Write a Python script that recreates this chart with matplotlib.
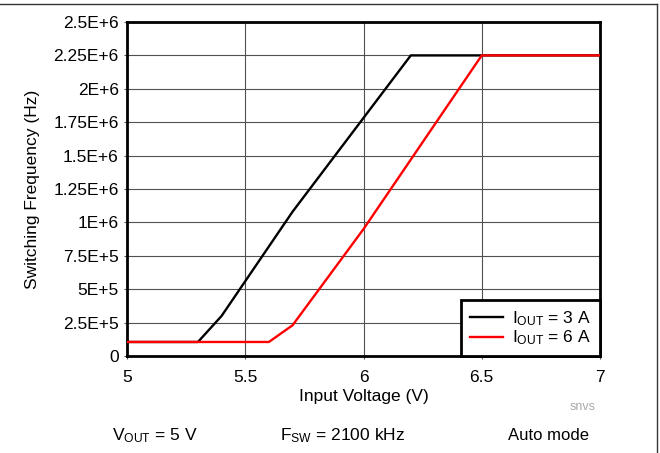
import matplotlib
matplotlib.use("Agg")
import matplotlib.pyplot as plt
from matplotlib.lines import Line2D

plt.rcParams['font.family'] = ['Liberation Sans', 'DejaVu Sans']
plt.rcParams['mathtext.fontset'] = 'custom'
plt.rcParams['mathtext.rm'] = 'Liberation Sans'
plt.rcParams['mathtext.it'] = 'Liberation Sans'

# Switching frequency vs input voltage
vin_3a = [5.0, 5.3, 5.4, 5.7, 6.2, 7.0]
fsw_3a = [1.05e5, 1.05e5, 3.0e5, 1.08e6, 2.25e6, 2.25e6]
vin_6a = [5.0, 5.6, 5.7, 6.0, 6.5, 7.0]
fsw_6a = [1.05e5, 1.05e5, 2.3e5, 9.5e5, 2.25e6, 2.25e6]

x_ticks = [5, 5.5, 6, 6.5, 7]
x_tick_labels = ['5', '5.5', '6', '6.5', '7']
y_ticks = [0, 2.5e5, 5e5, 7.5e5, 1e6, 1.25e6, 1.5e6, 1.75e6, 2e6, 2.25e6, 2.5e6]
y_tick_labels = ['0', '2.5E+5', '5E+5', '7.5E+5', '1E+6', '1.25E+6', '1.5E+6',
                 '1.75E+6', '2E+6', '2.25E+6', '2.5E+6']

FS = 12.5

fig = plt.figure(figsize=(6.6, 4.53), dpi=100)
ax = fig.add_axes([127/660, 1 - 356/453, (600 - 127)/660, (356 - 22)/453])

ax.plot(vin_3a, fsw_3a, color='black', lw=1.7, label=r'I$_{\mathregular{OUT}}$ = 3 A', zorder=3)
ax.plot(vin_6a, fsw_6a, color='#ff0000', lw=1.7, label=r'I$_{\mathregular{OUT}}$ = 6 A', zorder=3)

ax.set_xlim(5, 7)
ax.set_ylim(0, 2.5e6)
ax.set_xticks(x_ticks)
ax.set_xticklabels(x_tick_labels)
ax.set_yticks(y_ticks)
ax.set_yticklabels(y_tick_labels)
ax.tick_params(axis='both', labelsize=FS, length=2, width=0.8, color='#555555')
ax.tick_params(axis='y', pad=4)
ax.tick_params(axis='x', pad=8)
ax.grid(True, color='#505050', lw=0.8)
ax.set_axisbelow(True)
for s in ax.spines.values():
    s.set_linewidth(2)
    s.set_color('black')

ax.set_xlabel('Input Voltage (V)', fontsize=FS)
ax.xaxis.set_label_coords(0.5, -(397 - 356) / 334, transform=ax.transAxes)
ax.set_ylabel('Switching Frequency (Hz)', fontsize=FS)
ax.yaxis.set_label_coords(-(127 - 33) / 473, 0.5, transform=ax.transAxes)
ax.xaxis.label.set_va('center')
ax.yaxis.label.set_va('center')

leg = ax.legend(loc='lower right', borderaxespad=0, fontsize=FS, frameon=True,
                fancybox=False, handlelength=1.9, handletextpad=0.55,
                borderpad=0.5, labelspacing=0.05)
leg.get_frame().set_edgecolor('black')
leg.get_frame().set_linewidth(2)
leg.get_frame().set_alpha(1)

# notes under the plot
fig.text(583/660, 1 - 407/453, 'snvs', fontsize=9, color='#aaaaaa', ha='center', va='center')
fig.text(155/660, 1 - 436/453, r'V$_{\mathregular{OUT}}$ = 5 V', fontsize=FS, ha='center', va='center')
fig.text(343/660, 1 - 436/453, r'F$_{\mathregular{SW}}$ = 2100 kHz', fontsize=FS, ha='center', va='center')
fig.text(549/660, 1 - 436/453, 'Auto mode', fontsize=FS - 0.5, ha='center', va='center')

# page frame lines
fig.add_artist(Line2D([0, 657/660], [1 - 4/453, 1 - 4/453], transform=fig.transFigure,
                      color='#333333', lw=1))
fig.add_artist(Line2D([657/660, 657/660], [0, 1 - 4/453], transform=fig.transFigure,
                      color='#333333', lw=1))

fig.savefig('out.png', dpi=100)
